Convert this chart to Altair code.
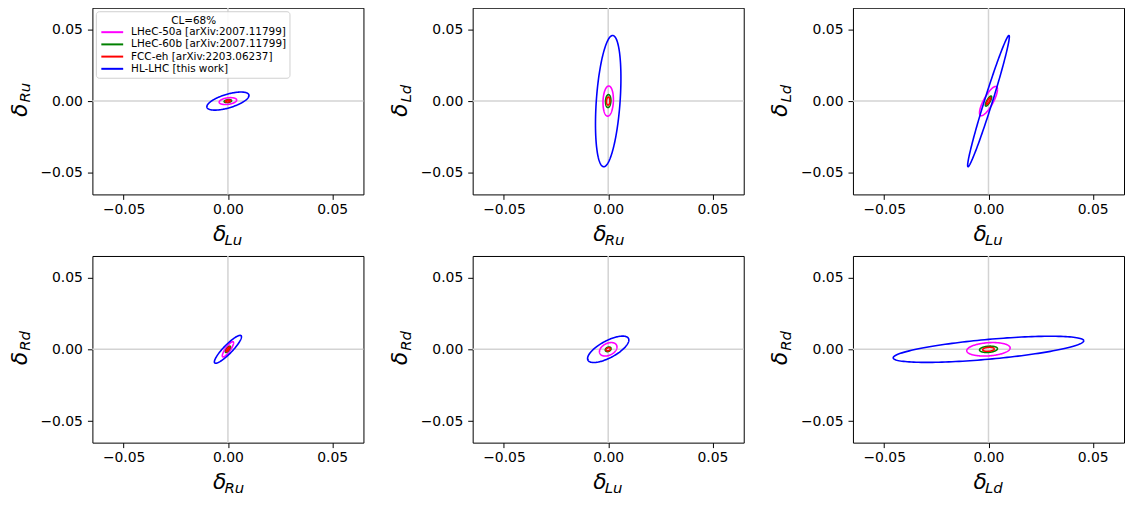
import altair as alt
import numpy as np
import pandas as pd

# ---------------- data ----------------
experiments = [
    "LHeC-50a [arXiv:2007.11799]",
    "LHeC-60b [arXiv:2007.11799]",
    "FCC-eh [arXiv:2203.06237]",
    "HL-LHC [this work]",
]
colors = ["#ff00ff", "#008000", "#ff0000", "#0000ff"]

x_params = ["Lu", "Ru", "Lu", "Ru", "Lu", "Ld"]
y_params = ["Ru", "Ld", "Ld", "Rd", "Rd", "Rd"]

tick_values = [-0.05, 0.0, 0.05]
axis_domain = [-0.065, 0.065]

# 68% CL ellipses: half-extent along x, half-extent along y, correlation (per panel)
lhec50_sx = [0.0042, 0.0025, 0.0043, 0.0027, 0.0042, 0.0104]
lhec50_sy = [0.0024, 0.0105, 0.0102, 0.0053, 0.0047, 0.0047]
lhec50_rho = [0.30, 0.10, 0.80, 0.85, 0.35, 0.20]

lhec60_sx = [0.0018, 0.0013, 0.0015, 0.0012, 0.0014, 0.0043]
lhec60_sy = [0.0010, 0.0045, 0.0035, 0.0022, 0.0016, 0.0022]
lhec60_rho = [0.30, 0.10, 0.80, 0.80, 0.30, 0.20]

fcc_sx = [0.0012, 0.0008, 0.0010, 0.0009, 0.0010, 0.0028]
fcc_sy = [0.0007, 0.0028, 0.0024, 0.0016, 0.0011, 0.0014]
fcc_rho = [0.30, 0.10, 0.85, 0.85, 0.30, 0.20]

hllhc_sx = [0.0101, 0.0061, 0.0100, 0.0065, 0.0099, 0.0457]
hllhc_sy = [0.0063, 0.0457, 0.0457, 0.0097, 0.0092, 0.0091]
hllhc_rho = [0.62, 0.35, 0.98, 0.90, 0.70, 0.65]

params = [
    (lhec50_sx, lhec50_sy, lhec50_rho),
    (lhec60_sx, lhec60_sy, lhec60_rho),
    (fcc_sx, fcc_sy, fcc_rho),
    (hllhc_sx, hllhc_sy, hllhc_rho),
]

legend_title = "CL=68%"

# ---------------- layout ----------------
W, H = 273, 188
FONT = "DejaVu Sans"
one = pd.DataFrame({"a": [0]})
zero_df = pd.DataFrame({"v": [0.0]})
t = np.linspace(0, 2 * np.pi, 161)


def ellipse_df(i):
    rows = []
    for name, (sx, sy, rho) in zip(experiments, params):
        a, b, r = sx[i], sy[i], rho[i]
        xs = a * np.cos(t)
        ys = b * (r * np.cos(t) + np.sqrt(1 - r * r) * np.sin(t))
        for k, (xv, yv) in enumerate(zip(xs, ys)):
            rows.append({"exp": name, "k": k, "x": float(xv), "y": float(yv)})
    return pd.DataFrame(rows)


def txt(s, x, y, size, italic=False, angle=0, align="left", baseline="alphabetic"):
    kw = dict(text=s, fontSize=size, font=FONT, align=align, baseline=baseline, color="black")
    if italic:
        kw["fontStyle"] = "italic"
    if angle:
        kw["angle"] = angle
    return alt.Chart(one).mark_text(**kw).encode(x=alt.value(x), y=alt.value(y))


def panel(i, with_legend=False):
    xs = alt.Scale(domain=axis_domain, nice=False, zero=False)
    ys = alt.Scale(domain=axis_domain, nice=False, zero=False)
    ax = dict(values=tick_values, format=".2f", title=None, grid=False, domain=False,
              labelFontSize=14, labelFont=FONT, labelColor="black", tickColor="black",
              tickSize=5, tickWidth=1)
    xaxis = alt.Axis(orient="bottom", labelPadding=3, **ax)
    yaxis = alt.Axis(orient="left", labelPadding=5, **ax)

    vrule = alt.Chart(zero_df).mark_rule(color="#d3d3d3", strokeWidth=1.5).encode(
        x=alt.X("v:Q", scale=xs, axis=xaxis))
    hrule = alt.Chart(zero_df).mark_rule(color="#d3d3d3", strokeWidth=1.5).encode(
        y=alt.Y("v:Q", scale=ys, axis=yaxis))
    lines = alt.Chart(ellipse_df(i)).mark_line(strokeWidth=1.6).encode(
        x=alt.X("x:Q", scale=xs, axis=xaxis),
        y=alt.Y("y:Q", scale=ys, axis=yaxis),
        color=alt.Color("exp:N", scale=alt.Scale(domain=experiments, range=colors), legend=None),
        order=alt.Order("k:Q"),
    )
    layers = [vrule, hrule, lines]
    # axis titles (delta with subscript)
    layers.append(txt("δ", W / 2 - 15, H + 47, 22, italic=True))
    layers.append(txt(x_params[i], W / 2 - 3.5, H + 50.5, 15, italic=True))
    layers.append(txt("δ", -66, H / 2 + 16, 22, italic=True, angle=270))
    layers.append(txt(y_params[i], -62.5, H / 2 + 1.5, 15, italic=True, angle=270))

    if with_legend:
        box = alt.Chart(one).mark_rect(fill="white", stroke="#cccccc", strokeWidth=1,
                                       cornerRadius=3, opacity=0.9).encode(
            x=alt.value(4), x2=alt.value(199), y=alt.value(4), y2=alt.value(71))
        layers.append(box)
        layers.append(txt(legend_title, 102, 13.5, 10.5, align="center", baseline="middle"))
        for j, (name, col) in enumerate(zip(experiments, colors)):
            yy = 24.6 + 12.3 * j
            layers.append(alt.Chart(one).mark_rule(color=col, strokeWidth=2).encode(
                x=alt.value(9), x2=alt.value(31), y=alt.value(yy)))
            layers.append(txt(name, 39, yy, 10.5, baseline="middle"))

    return alt.layer(*layers).properties(width=W, height=H)


chart = alt.concat(
    panel(0, True), panel(1), panel(2), panel(3), panel(4), panel(5),
    columns=3, spacing={"row": 62, "column": 110}, bounds="flush",
).properties(
    padding={"left": 0, "top": -4, "right": 0, "bottom": 0}
).configure_view(stroke="black", strokeWidth=1)

chart.save("out.html", embed_options={"renderer": "svg", "actions": False})
